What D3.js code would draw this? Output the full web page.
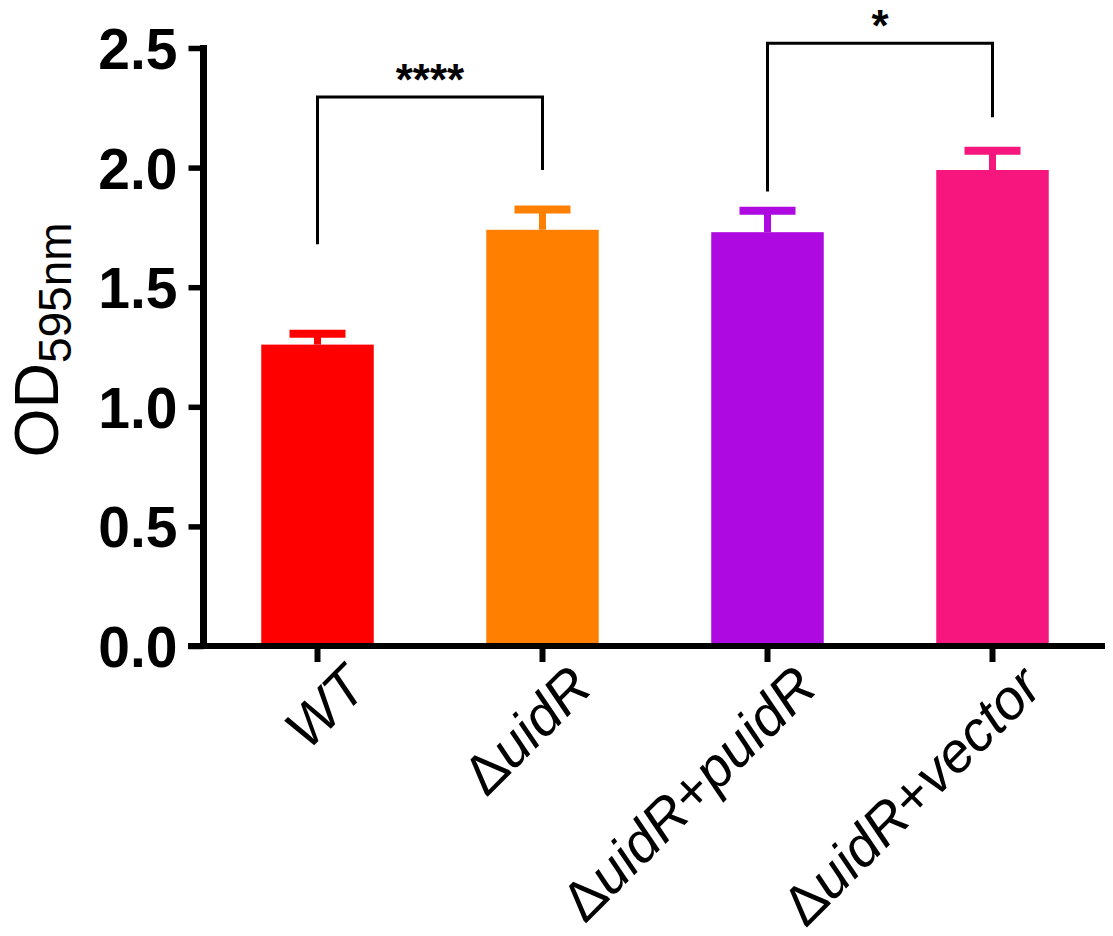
<!DOCTYPE html>
<html lang="en">

<head>
    <meta charset="UTF-8">
    <title>OD595nm bar chart</title>

    <!-- D3.js Library -->
    <script src="https://d3js.org/d3.v7.min.js"></script>

    <style>
        body {
            margin: 0;
            background: #fff;
        }

        svg text {
            font-family: Arial, "Liberation Sans", sans-serif;
        }
    </style>
</head>

<body>
    <div id="chart"></div>

    <script>
        // Chart data
        const categories = ["WT", "ΔuidR", "ΔuidR+puidR", "ΔuidR+vector"];
        const means = [1.26, 1.74, 1.73, 1.99];
        const errors = [0.045, 0.085, 0.09, 0.08];
        const barColors = ["#ff0000", "#ff8000", "#ad09e0", "#f7167e"];
        const yTicks = [0.0, 0.5, 1.0, 1.5, 2.0, 2.5];

        // significance brackets: [from, to, bar height, left leg end, right leg end, label]
        const bracketFrom = ["WT", "ΔuidR+puidR"];
        const bracketTo = ["ΔuidR", "ΔuidR+vector"];
        const bracketTop = [2.295, 2.52];
        const bracketLeftEnd = [1.68, 1.90];
        const bracketRightEnd = [1.99, 2.21];
        const bracketLabels = ["****", "*"];

        const width = 1113, height = 936;

        const svg = d3.select("#chart")
            .append("svg")
            .attr("width", width)
            .attr("height", height);

        const x = d3.scaleBand()
            .domain(categories)
            .range([205, 1105])
            .paddingInner(0.5)
            .paddingOuter(0.25);

        const y = d3.scaleLinear()
            .domain([0, 2.5])
            .range([646, 48]);

        // Bars
        svg.selectAll(".bar")
            .data(categories)
            .enter()
            .append("rect")
            .attr("class", "bar")
            .attr("x", d => x(d))
            .attr("width", x.bandwidth())
            .attr("y", (d, i) => y(means[i]))
            .attr("height", (d, i) => y(0) - y(means[i]))
            .attr("fill", (d, i) => barColors[i]);

        // Error bars (upper only)
        const err = svg.selectAll(".err")
            .data(categories)
            .enter()
            .append("g")
            .attr("class", "err")
            .attr("stroke", (d, i) => barColors[i]);

        err.append("line")
            .attr("x1", d => x(d) + x.bandwidth() / 2)
            .attr("x2", d => x(d) + x.bandwidth() / 2)
            .attr("y1", (d, i) => y(means[i]))
            .attr("y2", (d, i) => y(means[i] + errors[i]))
            .attr("stroke-width", 7);

        err.append("line")
            .attr("x1", d => x(d) + x.bandwidth() / 2 - 28)
            .attr("x2", d => x(d) + x.bandwidth() / 2 + 28)
            .attr("y1", (d, i) => y(means[i] + errors[i]))
            .attr("y2", (d, i) => y(means[i] + errors[i]))
            .attr("stroke-width", 8);

        // Y axis
        const yAxis = svg.append("g")
            .attr("transform", "translate(203.5,0)")
            .call(d3.axisLeft(y)
                .tickValues(yTicks)
                .tickFormat(d3.format(".1f"))
                .tickSize(15)
                .tickSizeOuter(0)
                .tickPadding(11));

        yAxis.select(".domain")
            .attr("stroke", "#000")
            .attr("stroke-width", 7)
            .attr("d", `M0,${y(2.5) - 3}V${y(0) + 3}`);
        yAxis.selectAll(".tick line")
            .attr("stroke", "#000")
            .attr("stroke-width", 5.5);
        yAxis.selectAll(".tick text")
            .attr("fill", "#000")
            .style("font-size", "57px")
            .style("font-weight", "bold")
            .attr("dy", "0.36em");

        // X axis
        const xAxis = svg.append("g")
            .attr("transform", `translate(0,${y(0)})`)
            .call(d3.axisBottom(x)
                .tickSize(16)
                .tickSizeOuter(0)
                .tickFormat(""));

        xAxis.select(".domain")
            .attr("stroke", "#000")
            .attr("stroke-width", 6)
            .attr("d", "M188,0H1105");
        xAxis.selectAll(".tick line")
            .attr("stroke", "#000")
            .attr("stroke-width", 6);

        // Rotated category labels, italic gene names
        xAxis.selectAll(".tick")
            .append("text")
            .attr("fill", "#000")
            .attr("text-anchor", "end")
            .attr("transform", "translate(52,44) rotate(-45)")
            .style("font-size", "56px")
            .each(function (d) {
                const t = d3.select(this);
                d.split(/([Δ+])/).filter(s => s.length).forEach(part => {
                    t.append("tspan")
                        .style("font-style", (part === "Δ" || part === "+") ? "normal" : "italic")
                        .text(part);
                });
            });

        // Y axis title
        const yTitle = svg.append("text")
            .attr("transform", "translate(58,340) rotate(-90)")
            .attr("text-anchor", "middle")
            .attr("fill", "#000");
        yTitle.append("tspan").style("font-size", "63px").text("OD");
        yTitle.append("tspan").style("font-size", "46px").attr("dy", 13).text("595nm");

        // Significance brackets
        bracketFrom.forEach((from, i) => {
            const x1 = x(from) + x.bandwidth() / 2;
            const x2 = x(bracketTo[i]) + x.bandwidth() / 2;
            svg.append("path")
                .attr("fill", "none")
                .attr("stroke", "#000")
                .attr("stroke-width", 3)
                .attr("d", `M${x1},${y(bracketLeftEnd[i])}V${y(bracketTop[i])}H${x2}V${y(bracketRightEnd[i])}`);
            svg.append("text")
                .attr("x", (x1 + x2) / 2)
                .attr("y", y(bracketTop[i]) - 2)
                .attr("text-anchor", "middle")
                .style("font-size", "44px")
                .style("font-weight", "bold")
                .text(bracketLabels[i]);
        });
    </script>
</body>

</html>
